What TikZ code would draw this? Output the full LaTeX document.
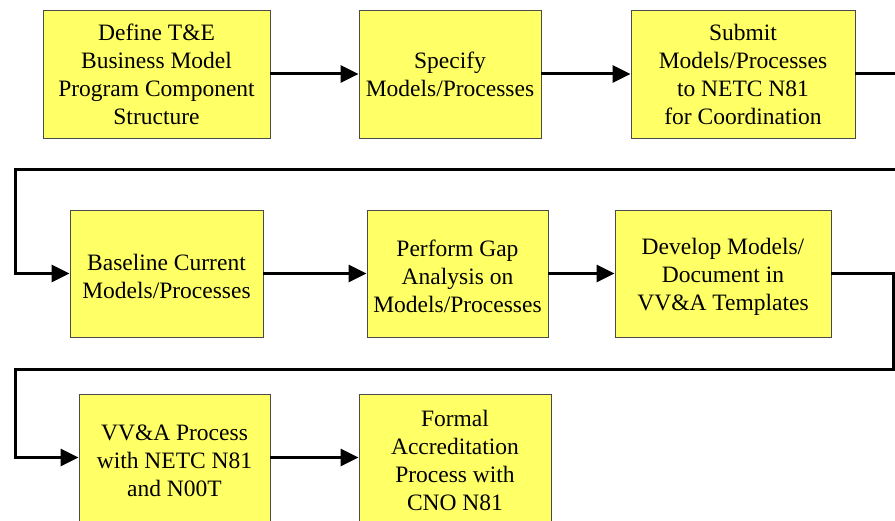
\documentclass[tikz,border=0pt]{standalone}
\usepackage{fontspec}
\setmainfont{Liberation Serif}
\newfontfamily\tnr{Liberation Serif}
\usetikzlibrary{arrows.meta}
\definecolor{boxfill}{HTML}{FFFF66}
\definecolor{boxline}{HTML}{4A4A4A}
\begin{document}
\begin{tikzpicture}[x=1pt,y=1pt,
  txt/.style={inner sep=0pt, align=center, font=\tnr\fontsize{23.5}{28}\selectfont},
  stepbox/.style={draw=boxline, line width=0.8pt, fill=boxfill, txt},
  flow/.style={line width=3pt, -{Triangle[length=18pt,width=17pt]}}]
\useasboundingbox (0,0) rectangle (895,521);
\node[stepbox, minimum width=227, minimum height=128] (b1) at (156.5,447) {Define T\&E\\Business Model\\Program Component\\Structure};
\node[stepbox, minimum width=182, minimum height=128] (b2) at (450,447) {Specify\\Models/Processes};
\node[stepbox, minimum width=224, minimum height=128] (b3) at (743,447) {Submit\\Models/Processes\\to NETC N81\\for Coordination};
\node[stepbox, minimum width=193, minimum height=127] (b4) at (166.5,247.5) {};
\node[stepbox, minimum width=181, minimum height=127] (b5) at (457.5,247.5) {};
\node[stepbox, minimum width=216, minimum height=127] (b6) at (723,247.5) {};
\node[stepbox, minimum width=191, minimum height=127] (b7) at (174.5,63.5) {};
\node[stepbox, minimum width=192, minimum height=127] (b8) at (455,63.5) {};
\node[txt] (t4) at ([yshift=-3]b4.center) {Baseline Current\\Models/Processes};
\node[txt] (t5) at ([yshift=-3]b5.center) {Perform Gap\\Analysis on\\Models/Processes};
\node[txt] (t6) at ([yshift=-3]b6.center) {Develop Models/\\Document in\\VV\&A Templates};
\node[txt] (t7) at ([yshift=-3]b7.center) {VV\&A Process\\with NETC N81\\and N00T};
\node[txt] (t8) at ([yshift=-3]b8.center) {Formal\\Accreditation\\Process with\\CNO N81};
\coordinate (c1) at (905,351);
\coordinate (c2) at (15,351);
\coordinate (c3) at (893,151);
\coordinate (c4) at (15,151);
\draw[flow] (b1) -- (b2);
\draw[flow] (b2) -- (b3);
\draw[flow] (b3.east) -| (c1) -- (c2) |- (b4.west);
\draw[flow] (b4) -- (b5);
\draw[flow] (b5) -- (b6);
\draw[flow] (b6.east) -| (c3) -- (c4) |- (b7.west);
\draw[flow] (b7) -- (b8);
\end{tikzpicture}
\end{document}
